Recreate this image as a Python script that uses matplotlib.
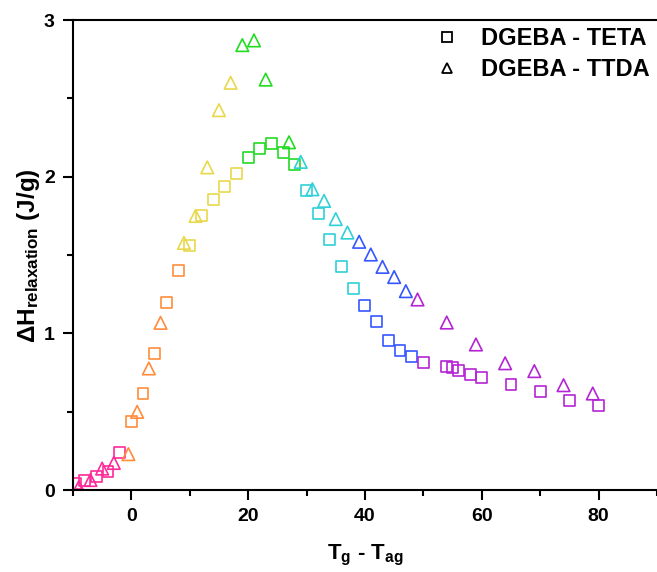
import matplotlib
matplotlib.use('Agg')
import matplotlib.pyplot as plt
from matplotlib.colors import ListedColormap, BoundaryNorm
from matplotlib.lines import Line2D
from matplotlib.ticker import MultipleLocator
import numpy as np

# DGEBA - TETA (squares)
teta_x = [-9.5, -8, -6, -4, -2, 0, 2, 4, 6, 8, 10, 12, 14, 16, 18, 20, 22, 24, 26, 28,
          30, 32, 34, 36, 38, 40, 42, 44, 46, 48, 50, 54, 55, 56, 58, 60, 65, 70, 75, 80]
teta_y = [0.04, 0.064, 0.085, 0.117, 0.238, 0.436, 0.617, 0.872, 1.195, 1.404, 1.564, 1.755,
          1.855, 1.94, 2.02, 2.12, 2.18, 2.21, 2.155, 2.08, 1.91, 1.763, 1.60, 1.43, 1.287,
          1.176, 1.076, 0.953, 0.893, 0.851, 0.815, 0.787, 0.783, 0.766, 0.74, 0.719, 0.672,
          0.627, 0.574, 0.538]

# DGEBA - TTDA (triangles)
ttda_x = [-9, -7, -5, -3, -0.5, 1, 3, 5, 9, 11, 13, 15, 17, 19, 21, 23, 27, 29, 31, 33,
          35, 37, 39, 41, 43, 45, 47, 49, 54, 59, 64, 69, 74, 79]
ttda_y = [0.02, 0.065, 0.138, 0.174, 0.23, 0.50, 0.777, 1.068, 1.578, 1.75, 2.06, 2.425,
          2.60, 2.84, 2.87, 2.62, 2.22, 2.095, 1.92, 1.846, 1.73, 1.644, 1.585, 1.504, 1.425,
          1.36, 1.27, 1.217, 1.07, 0.93, 0.81, 0.76, 0.67, 0.617]

labels = ['DGEBA - TETA', 'DGEBA - TTDA']

# colour bands along x
band_edges = [-100, -1.5, 8.5, 18.5, 28.5, 38.5, 48.5, 100]
band_colors = ['#FF2A9A', '#FF8C3C', '#E8D84C', '#22DC22', '#30D0D8', '#3556FF', '#B424D4']
cmap = ListedColormap(band_colors)
norm = BoundaryNorm(band_edges, cmap.N)

plt.rcParams['font.family'] = ['Liberation Sans', 'DejaVu Sans']
plt.rcParams['font.weight'] = 'bold'
plt.rcParams['mathtext.fontset'] = 'custom'
plt.rcParams['mathtext.rm'] = 'Liberation Sans:bold'
plt.rcParams['mathtext.bf'] = 'Liberation Sans:bold'
plt.rcParams['mathtext.default'] = 'bf'

fig = plt.figure(figsize=(6.57, 5.72), dpi=100)
ax = fig.add_axes([0.111, 0.143, 0.889, 0.822])

sq = ax.scatter(teta_x, teta_y, marker='s', s=62, linewidths=1.2)
tr = ax.scatter(ttda_x, ttda_y, marker='^', s=82, linewidths=1.2)
# hollow markers coloured by x band
sq.set_facecolor('none')
sq.set_edgecolor(cmap(norm(np.array(teta_x))))
tr.set_facecolor('none')
tr.set_edgecolor(cmap(norm(np.array(ttda_x))))

ax.set_xlim(-10, 90)
ax.set_ylim(0, 3)
ax.xaxis.set_major_locator(MultipleLocator(20))
ax.xaxis.set_minor_locator(MultipleLocator(10))
ax.yaxis.set_major_locator(MultipleLocator(1))
ax.yaxis.set_minor_locator(MultipleLocator(0.5))
ax.tick_params(which='major', direction='out', length=7, width=1.5, labelsize=14, pad=6)
ax.tick_params(which='minor', direction='out', length=4, width=1.5)
for lab in ax.get_xticklabels() + ax.get_yticklabels():
    lab.set_fontweight('bold')
for side in ['left', 'bottom', 'top']:
    ax.spines[side].set_linewidth(1.5)
ax.spines['right'].set_visible(False)
ax.xaxis.set_ticks_position('bottom')
ax.yaxis.set_ticks_position('left')

ax.set_xlabel(r'T$_{g}$ - T$_{ag}$', fontsize=16, fontweight='bold', labelpad=13)
ax.set_ylabel(r'$\Delta$H$_{relaxation}$ (J/g)', fontsize=17.5, fontweight='bold')
ax.yaxis.set_label_coords(-0.053, 0.498)

handles = [Line2D([], [], ls='none', marker='s', mfc='none', mec='black', ms=6.5, mew=1.3),
           Line2D([], [], ls='none', marker='^', mfc='none', mec='black', ms=7.5, mew=1.3)]
ax.legend(handles, labels, loc='upper right', bbox_to_anchor=(1.0, 1.0), frameon=False,
          prop={'size': 17, 'weight': 'bold'}, handlelength=1.2, handletextpad=0.85,
          labelspacing=0.35, borderaxespad=0.05, borderpad=0.25)

fig.savefig('out.png', dpi=100)
